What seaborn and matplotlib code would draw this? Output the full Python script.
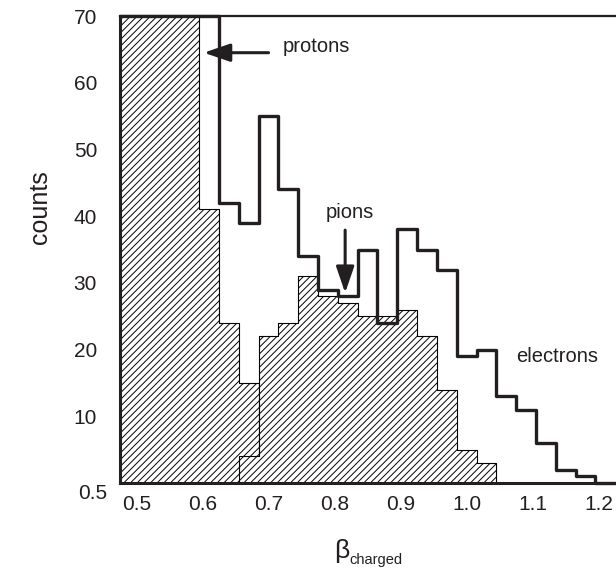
import matplotlib
matplotlib.use('Agg')
import matplotlib.pyplot as plt
import matplotlib.transforms as mtransforms
import seaborn as sns

# beta bin centres (bins of 0.03), counts
beta = [0.49, 0.52, 0.55, 0.58, 0.61, 0.64, 0.67, 0.70, 0.73, 0.76, 0.79, 0.82, 0.85,
        0.88, 0.91, 0.94, 0.97, 1.00, 1.03, 1.06, 1.09, 1.12, 1.15, 1.18, 1.21]
# first bins are saturated at the top of the frame (70)
protons = [70, 70, 70, 70, 41, 24, 15, 4, 0, 0, 0, 0, 0,
           0, 0, 0, 0, 0, 0, 0, 0, 0, 0, 0, 0]
pions = [0, 0, 0, 0, 0, 0, 4, 22, 24, 31, 28, 27, 25,
         25, 26, 22, 14, 5, 3, 0, 0, 0, 0, 0, 0]
electrons = [70, 70, 70, 70, 70, 42, 39, 55, 44, 34, 29, 28, 35,
             24, 38, 35, 32, 19, 20, 13, 11, 6, 2, 1, 0]

x_ticks = [0.5, 0.6, 0.7, 0.8, 0.9, 1.0, 1.1, 1.2]
y_ticks = [10, 20, 30, 40, 50, 60, 70]

sns.set_style('white')
plt.rcParams['font.family'] = ['Liberation Sans', 'DejaVu Sans']
plt.rcParams['hatch.linewidth'] = 0.7
plt.rcParams['hatch.color'] = 'black'
ink = '#231f20'

fig = plt.figure(figsize=(6.16, 5.72), dpi=100)
# frame runs off the right edge of the picture, like the scan
ax = fig.add_axes([0.1948, 0.1556, 0.8429, 0.8164])

hist_kw = dict(binwidth=0.03, binrange=(0.475, 1.225), element='step', ax=ax)
sns.histplot(x=beta, weights=protons, fill=True, facecolor='white', edgecolor='black',
             hatch='/////', linewidth=0.8, **hist_kw)
sns.histplot(x=beta, weights=pions, fill=True, facecolor='white', edgecolor='black',
             hatch='/////', linewidth=0.8, **hist_kw)
sns.histplot(x=beta, weights=electrons, fill=False, color=ink, linewidth=2.4, **hist_kw)
ax.lines[-1].set_clip_on(False)

ax.set_xlim(0.475, 1.2614)
ax.set_ylim(0, 70)
ax.set_xticks(x_ticks)
ax.set_xticklabels(['%.1f' % t for t in x_ticks])
ax.set_yticks(y_ticks)
ax.tick_params(axis='both', direction='inout', length=5, width=1.2, colors=ink,
               labelsize=15)
ax.tick_params(axis='x', pad=6)
ax.tick_params(axis='y', pad=14)

for side in ['left', 'bottom']:
    ax.spines[side].set_linewidth(2.2)
ax.spines['top'].set_linewidth(1.6)
ax.spines['right'].set_linewidth(1.6)
for s in ax.spines.values():
    s.set_color(ink)

# odd bottom label of the original y axis
trans = mtransforms.blended_transform_factory(ax.transAxes, ax.transData)
ax.text(-0.025, -1.5, '0.5', transform=trans, ha='right', va='center',
        fontsize=15, color=ink, clip_on=False)

# x label: large beta with a small "charged" subscript
ax.set_xlabel('')
fig.text(0.543, 0.024, '\u03b2', fontsize=19, color=ink, ha='left', va='baseline')
fig.text(0.567, 0.0135, 'charged', fontsize=10.5, color=ink, ha='left', va='baseline')
ax.set_ylabel('counts', fontsize=18, color=ink)
ax.yaxis.set_label_coords(-0.131, 0.591)

# labels and arrows
arrow = dict(arrowstyle='-|>,head_length=1.6,head_width=0.55', lw=2.2, color=ink,
             shrinkA=0, shrinkB=0, mutation_scale=10)
ax.text(0.722, 65.4, 'protons', fontsize=14.5, color=ink, ha='left', va='center')
ax.annotate('', xy=(0.602, 64.5), xytext=(0.700, 64.5), arrowprops=arrow)
ax.text(0.823, 40.6, 'pions', fontsize=14.5, color=ink, ha='center', va='center')
ax.annotate('', xy=(0.816, 28.5), xytext=(0.816, 37.9), arrowprops=arrow)
ax.text(1.075, 18.9, 'electrons', fontsize=14.5, color=ink, ha='left', va='center')

fig.savefig('out.png', dpi=100)
